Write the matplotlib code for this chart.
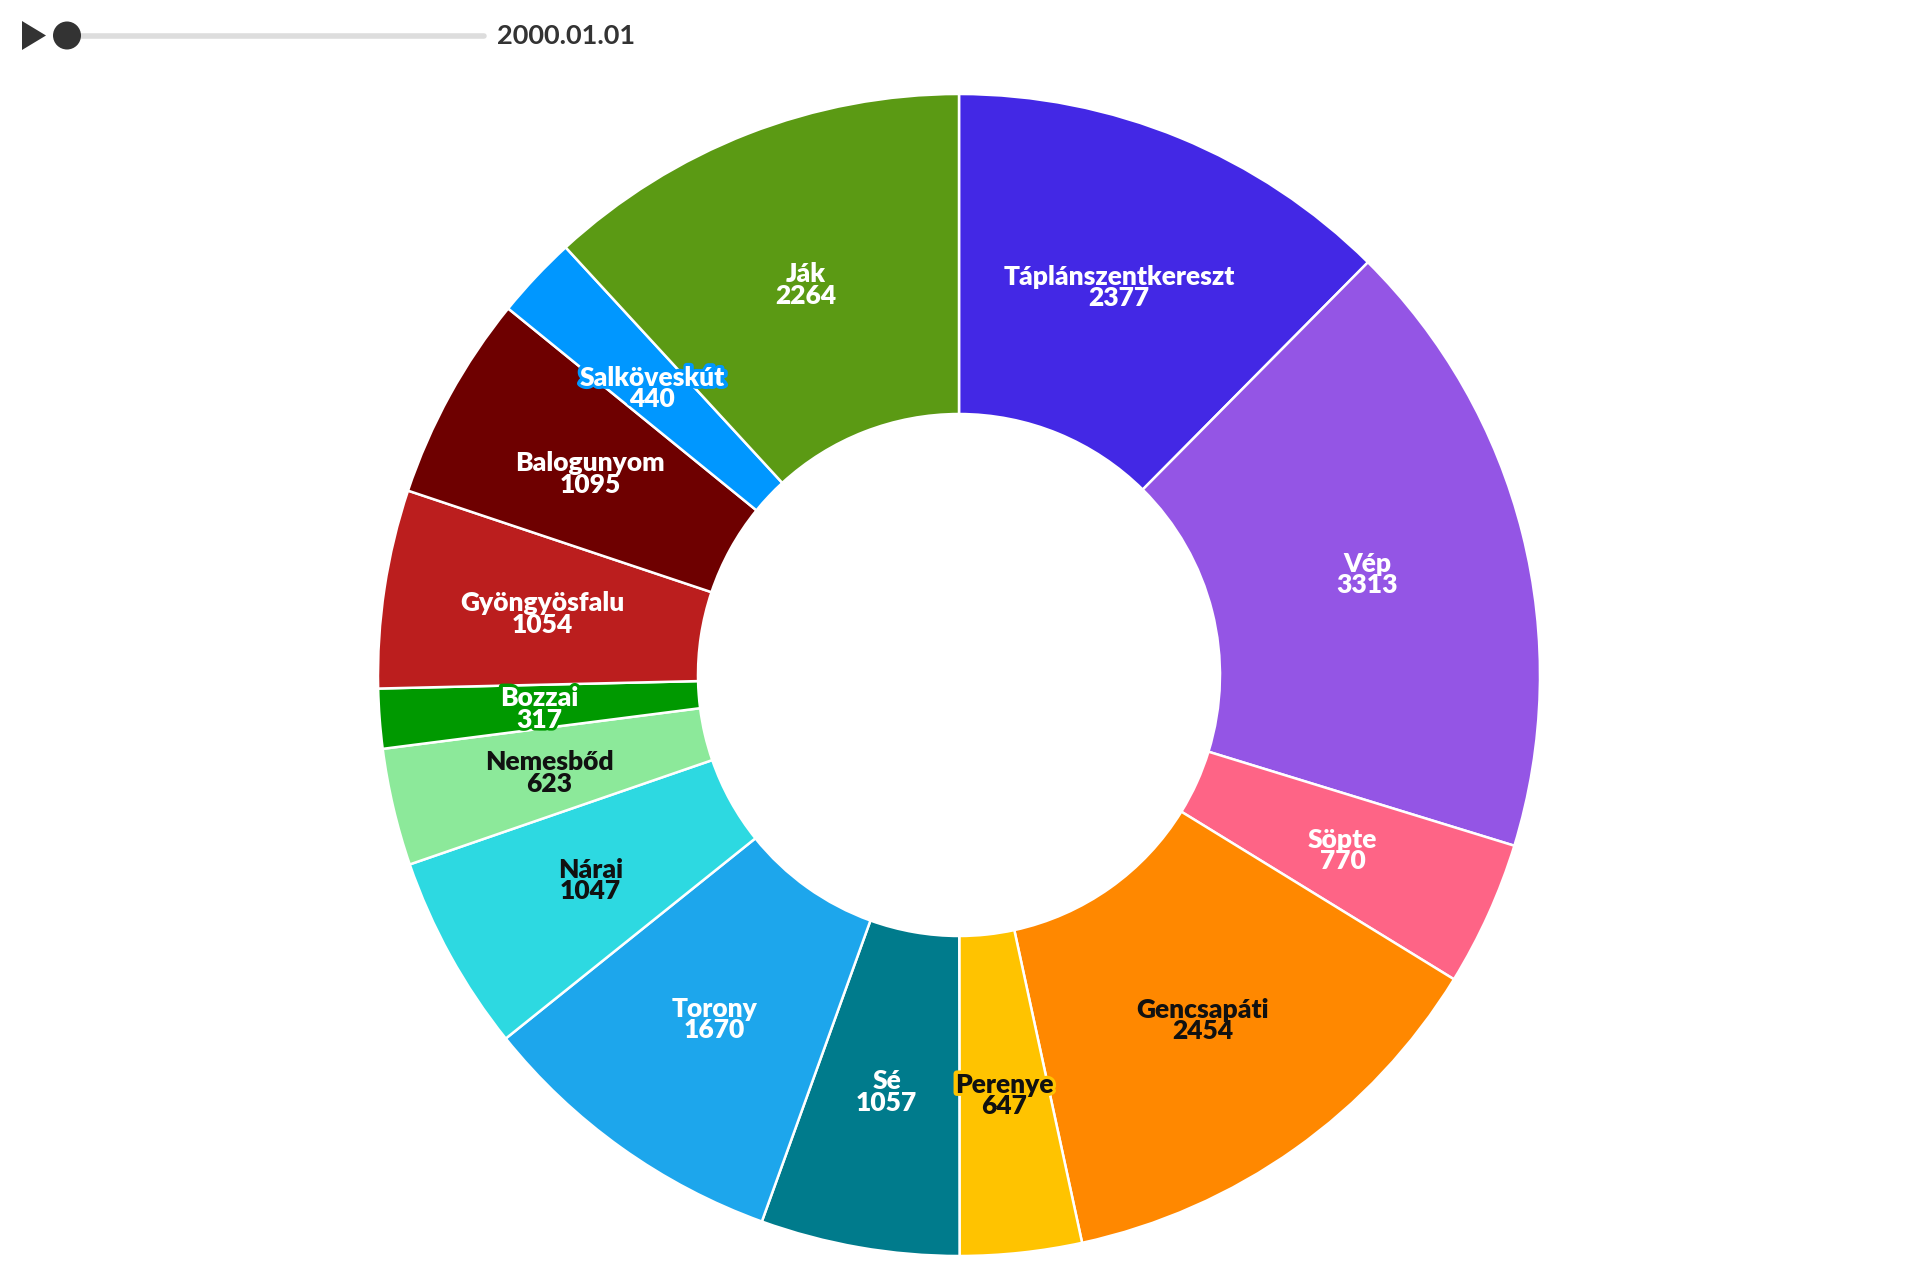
import matplotlib
matplotlib.use('Agg')
import numpy as np
import matplotlib.pyplot as plt
import matplotlib.patheffects as pe
from matplotlib.patches import Polygon, Circle

# Data (clockwise from 12 o'clock)
names = ['Táplánszentkereszt', 'Vép', 'Söpte', 'Gencsapáti', 'Perenye', 'Sé',
         'Torony', 'Nárai', 'Nemesbőd', 'Bozzai', 'Gyöngyösfalu', 'Balogunyom',
         'Salköveskút', 'Ják']
values = [2377, 3313, 770, 2454, 647, 1057, 1670, 1047, 623, 317, 1054, 1095, 440, 2264]
colors = ['#4328E5', '#9455E5', '#FE6486', '#FF8800', '#FFC300', '#007B8C',
          '#1DA6EC', '#2DD9E1', '#8CE99A', '#009900', '#BB1E1E', '#6E0000',
          '#0097FF', '#5B9A14']
dark_text = ['Gencsapáti', 'Perenye', 'Nárai', 'Nemesbőd']
date_label = '2000.01.01'

W, H = 1920, 1279
fig = plt.figure(figsize=(W / 100, H / 100), dpi=100)
ax = fig.add_axes([0, 0, 1, 1])

font = ['Lato', 'DejaVu Sans']

cx, cy = 959, H - 675
R_out, R_in = 581, 261

wedges, _ = ax.pie(values, radius=R_out, center=(cx, cy), startangle=90,
                   counterclock=False, colors=colors,
                   wedgeprops=dict(width=R_out - R_in, edgecolor='white',
                                   linewidth=1.8, joinstyle='round'))
ax.set_xlim(0, W)
ax.set_ylim(0, H)
ax.set_aspect('equal')
ax.axis('off')

# labels at mid radius / mid angle of each wedge
r_mid = (R_out + R_in) / 2
for w, name, val, col in zip(wedges, names, values, colors):
    ang = np.deg2rad((w.theta1 + w.theta2) / 2)
    x = cx + r_mid * np.cos(ang)
    y = cy + r_mid * np.sin(ang) - 2
    tc = '#111111' if name in dark_text else 'white'
    kw = dict(ha='center', va='center', multialignment='center', fontsize=19,
              fontweight='heavy', family=font, linespacing=0.88)
    # halo first, then the text itself on top so both lines stay readable
    ax.text(x, y, f'{name}\n{val}', color=col, zorder=5,
            path_effects=[pe.Stroke(linewidth=4.5, foreground=col)], **kw)
    ax.text(x, y, f'{name}\n{val}', color=tc, zorder=6, **kw)

# slider at the top
ax.add_patch(Polygon([[22, H - 21], [22, H - 50], [46, H - 35.5]], closed=True,
                     facecolor='#333333', edgecolor='none'))
ax.plot([67, 484], [H - 35.5, H - 35.5], color='#dddddd', linewidth=4,
        solid_capstyle='round', zorder=1)
ax.add_patch(Circle((67, H - 35.5), 14, facecolor='#333333', edgecolor='none', zorder=2))
ax.text(497, H - 36, date_label, ha='left', va='center', fontsize=19.5,
        fontweight='bold', family=font, color='#333333')

fig.savefig('out.png', dpi=100)
